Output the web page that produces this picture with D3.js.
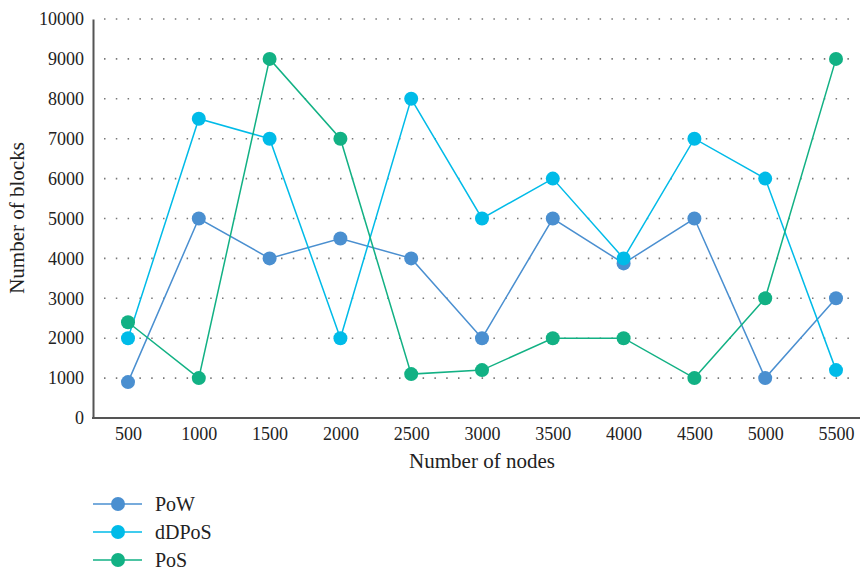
<!DOCTYPE html>
<html><head><meta charset="utf-8">
<script src="https://cdn.jsdelivr.net/npm/d3@7"></script>
<style>body{margin:0;background:#fff}svg{display:block}</style>
</head><body>
<svg id="c" width="860" height="571"></svg>
<script>
const nodes = [500,1000,1500,2000,2500,3000,3500,4000,4500,5000,5500];
const pow   = [900,5000,4000,4500,4000,2000,5000,3875,5000,1000,3000];
const ddpos = [2000,7500,7000,2000,8000,5000,6000,4000,7000,6000,1200];
const pos   = [2400,1000,9000,7000,1100,1200,2000,2000,1000,3000,9000];
const yTicks = [0,1000,2000,3000,4000,5000,6000,7000,8000,9000,10000];
const seriesNames = ["PoW","dDPoS","PoS"];
const colors = ["#4a8fd0","#00bbe8","#12b184"];
const FONT = "'Liberation Serif','DejaVu Serif',serif";

const svg = d3.select("#c");
const x = d3.scalePoint().domain(nodes).range([128,836]);
const y = d3.scaleLinear().domain([0,10000]).range([418,19]);

// grid
svg.append("g").selectAll("line").data(yTicks.filter(d=>d>0)).join("line")
  .attr("x1",104).attr("x2",856).attr("y1",d=>y(d)).attr("y2",d=>y(d))
  .attr("stroke","#777").attr("stroke-width",1.6).attr("stroke-dasharray","1.5,10.3");

// y axis
const ya = svg.append("g").attr("transform","translate(93,0)")
  .call(d3.axisLeft(y).tickValues(yTicks).tickSize(0).tickPadding(9).tickFormat(d3.format("d")));
ya.select(".domain").attr("stroke","#555").attr("stroke-width",2);
ya.selectAll("text").style("font-size","18px").style("font-family",FONT).attr("fill","#222");

// x axis
const xa = svg.append("g").attr("transform","translate(0,418)")
  .call(d3.axisBottom(x).tickSize(0).tickPadding(9));
xa.select(".domain").remove();
svg.append("line").attr("x1",92).attr("x2",860).attr("y1",418).attr("y2",418).attr("stroke","#555").attr("stroke-width",2);
xa.selectAll("text").style("font-size","18px").style("font-family",FONT).attr("fill","#222");

svg.append("text").attr("x",482).attr("y",468).attr("text-anchor","middle")
  .style("font-size","21px").style("font-family",FONT).attr("fill","#222").text("Number of nodes");
svg.append("text").attr("transform","translate(24,218) rotate(-90)").attr("text-anchor","middle")
  .style("font-size","21px").style("font-family",FONT).attr("fill","#222").text("Number of blocks");

const data = [pow,ddpos,pos];
const line = d3.line().x((d,i)=>x(nodes[i])).y(d=>y(d));
data.forEach((s,k)=>{
  svg.append("path").datum(s).attr("d",line).attr("fill","none").attr("stroke",colors[k]).attr("stroke-width",1.5);
});
data.forEach((s,k)=>{
  svg.append("g").selectAll("circle").data(s).join("circle")
    .attr("cx",(d,i)=>x(nodes[i])).attr("cy",d=>y(d)).attr("r",7).attr("fill",colors[k]);
});

// legend
const ly = [504,532,560];
seriesNames.forEach((n,k)=>{
  const g = svg.append("g");
  g.append("line").attr("x1",93).attr("x2",142).attr("y1",ly[k]).attr("y2",ly[k]).attr("stroke",colors[k]).attr("stroke-width",1.5);
  g.append("circle").attr("cx",118).attr("cy",ly[k]).attr("r",7).attr("fill",colors[k]);
  g.append("text").attr("x",155).attr("y",ly[k]+7).style("font-size","20px").style("font-family",FONT).attr("fill","#222").text(n);
});
</script>
</body></html>
